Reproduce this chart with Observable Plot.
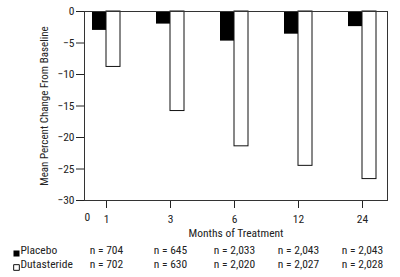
<!DOCTYPE html>
<html>
<head>
<meta charset="utf-8">
<script src="https://cdn.jsdelivr.net/npm/d3@7"></script>
<script src="https://cdn.jsdelivr.net/npm/@observablehq/plot@0.6"></script>
<style>
  html, body { margin: 0; padding: 0; background: #fff; }
</style>
</head>
<body>
<div id="chart"></div>
<script>
const months = ["1", "3", "6", "12", "24"];
const placebo = [-3.0, -2.0, -4.7, -3.6, -2.4];
const dutasteride = [-8.8, -15.8, -21.4, -24.5, -26.6];
const placeboN = ["n = 704", "n = 645", "n = 2,033", "n = 2,043", "n = 2,043"];
const dutasterideN = ["n = 702", "n = 630", "n = 2,020", "n = 2,027", "n = 2,028"];
const yTicks = [0, -5, -10, -15, -20, -25, -30];
const seriesNames = ["Placebo", "Dutasteride"];

const pData = months.map((m, i) => ({month: m, value: placebo[i], n: placeboN[i]}));
const dData = months.map((m, i) => ({month: m, value: dutasteride[i], n: dutasterideN[i]}));

const font = "'Roboto Condensed', 'Liberation Sans', sans-serif";
const ink = "#222";

const chart = Plot.plot({
  width: 400,
  height: 277,
  marginTop: 11,
  marginBottom: 77,
  marginLeft: 84,
  marginRight: 13,
  style: {fontFamily: font, fontSize: "11.5px", color: ink, background: "#fff"},
  x: {
    type: "band",
    domain: months,
    range: [72.75, 395.25],
    paddingInner: 0.566,
    paddingOuter: 0.283,
    tickSize: 8,
    tickPadding: 6,
    label: null
  },
  y: {
    domain: [-30, 0],
    ticks: yTicks,
    tickSize: 8,
    tickPadding: 2,
    label: null
  },
  marks: [
    Plot.barY(pData, {x: "month", y: "value", fill: "#000", insetRight: 14}),
    Plot.barY(dData, {x: "month", y: "value", fill: "#fff", stroke: "#111", strokeWidth: 1, insetLeft: 14}),
    Plot.frame({stroke: "#333"}),
    Plot.text(["0"], {frameAnchor: "bottom-left", dy: 20, fill: ink, fontSize: 11.5}),
    Plot.text(["Months of Treatment"], {frameAnchor: "bottom", dy: 36, fill: ink, fontSize: 11.5}),
    Plot.text(["Mean Percent Change From Baseline"], {frameAnchor: "left", textAnchor: "middle", rotate: -90, dx: -40, fill: ink, fontSize: 11}),
    Plot.text(pData, {x: "month", text: "n", frameAnchor: "bottom", dy: 53, fill: ink, fontSize: 11.5}),
    Plot.text(dData, {x: "month", text: "n", frameAnchor: "bottom", dy: 67, fill: ink, fontSize: 11.5}),
    Plot.dot([seriesNames[0]], {frameAnchor: "bottom-left", dx: -68, dy: 53, symbol: "square", r: 3.4, fill: "#000", stroke: "none"}),
    Plot.dot([seriesNames[1]], {frameAnchor: "bottom-left", dx: -68, dy: 67, symbol: "square", r: 3.2, fill: "#fff", stroke: "#111", strokeWidth: 1}),
    Plot.text([seriesNames[0]], {frameAnchor: "bottom-left", dx: -64, dy: 53, textAnchor: "start", fill: ink, fontSize: 11.5}),
    Plot.text([seriesNames[1]], {frameAnchor: "bottom-left", dx: -64, dy: 67, textAnchor: "start", fill: ink, fontSize: 11.5})
  ]
});
document.getElementById("chart").appendChild(chart);
</script>
</body>
</html>
